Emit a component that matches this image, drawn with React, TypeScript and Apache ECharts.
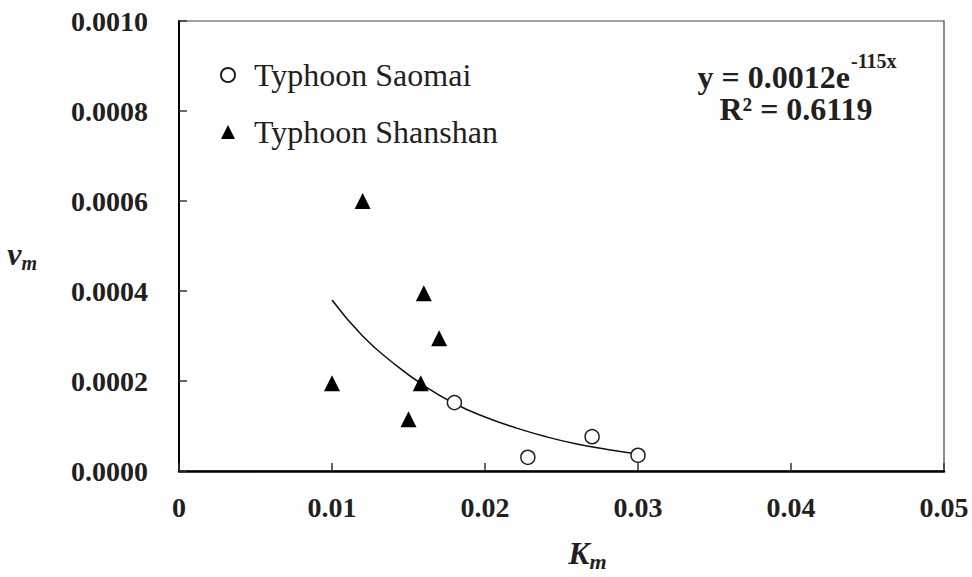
import React, { useEffect, useRef } from "react";
import * as echarts from "echarts";

const saomaiKm = [0.018, 0.0228, 0.027, 0.030];
const saomaiVm = [0.000152, 0.0000304, 0.0000763, 0.0000349];

const shanshanKm = [0.012, 0.016, 0.017, 0.010, 0.0158, 0.015];
const shanshanVm = [0.0006, 0.000395, 0.000295, 0.000195, 0.000195, 0.000115];

const trendKm = [0.010, 0.012, 0.014, 0.016, 0.018, 0.020, 0.022, 0.024, 0.026, 0.028, 0.030];
const trendVm = [0.00038, 0.0003, 0.00024, 0.00019, 0.00015, 0.00012, 0.000096, 0.000076, 0.00006, 0.000048, 0.000038];

const xTickLabels = ["0", "0.01", "0.02", "0.03", "0.04", "0.05"];
const yTickLabels = ["0.0000", "0.0002", "0.0004", "0.0006", "0.0008", "0.0010"];

const seriesNames = ["Typhoon Saomai", "Typhoon Shanshan"];
const equationMain = "y = 0.0012e";
const equationExp = "-115x";
const rSquared = "R² = 0.6119";

const FONT = "'Liberation Serif', 'Times New Roman', serif";
const INK = "#231f20";

export default function App() {
  const ref = useRef<HTMLDivElement>(null);
  useEffect(() => {
    if (!ref.current) return;
    const chart = echarts.init(ref.current, null, { renderer: "svg" });
    const zip = (a: number[], b: number[]) => a.map((v, i) => [v, b[i]]);
    chart.setOption({
      animation: false,
      backgroundColor: "#fff",
      grid: {
        left: 179,
        right: 28,
        top: 21,
        bottom: 106,
        outerBoundsMode: "none",
        containLabel: false,
        show: true,
        borderColor: "#444",
        borderWidth: 1.2,
        backgroundColor: "transparent",
      },
      legend: {
        orient: "vertical",
        left: 215,
        top: 54,
        itemWidth: 14,
        itemHeight: 14,
        itemGap: 25,
        data: [
          { name: seriesNames[0], icon: "circle" },
          { name: seriesNames[1], icon: "triangle" },
        ],
        textStyle: {
          fontFamily: FONT,
          fontSize: 32,
          color: INK,
          padding: [0, 0, 0, 14],
        },
      },
      xAxis: {
        type: "value",
        min: 0,
        max: 0.05,
        interval: 0.01,
        name: "{k|K}{m|m}",
        nameLocation: "middle",
        nameGap: 66,
        nameTextStyle: {
          padding: [0, 0, 0, 52],
          rich: {
            k: { fontFamily: FONT, fontSize: 32, fontWeight: "bold", fontStyle: "italic", color: INK },
            m: { fontFamily: FONT, fontSize: 22, fontWeight: "bold", fontStyle: "italic", color: INK, verticalAlign: "bottom", padding: [0, 0, -3, 0] },
          },
        },
        axisLine: { lineStyle: { color: "#000", width: 2.5 } },
        axisTick: { inside: true, length: 8, lineStyle: { color: "#333", width: 1.5 } },
        splitLine: { show: false },
        axisLabel: {
          margin: 22,
          fontFamily: FONT,
          fontSize: 28,
          fontWeight: "bold",
          color: INK,
          formatter: (_v: number, i: number) => xTickLabels[i],
        },
      },
      yAxis: {
        type: "value",
        min: 0,
        max: 0.001,
        interval: 0.0002,
        name: "{v|v}{m|m}",
        nameLocation: "middle",
        nameRotate: 0,
        nameGap: 142,
        nameTextStyle: {
          padding: [16, 0, 0, 0],
          rich: {
            v: { fontFamily: FONT, fontSize: 32, fontWeight: "bold", fontStyle: "italic", color: INK },
            m: { fontFamily: FONT, fontSize: 20, fontWeight: "bold", fontStyle: "italic", color: INK, verticalAlign: "bottom", padding: [0, 0, -3, 0] },
          },
        },
        axisLine: { lineStyle: { color: "#000", width: 2 } },
        axisTick: { inside: true, length: 8, lineStyle: { color: "#333", width: 1.5 } },
        splitLine: { show: false },
        axisLabel: {
          margin: 31,
          fontFamily: FONT,
          fontSize: 28,
          fontWeight: "bold",
          color: INK,
          formatter: (_v: number, i: number) => yTickLabels[i],
        },
      },
      graphic: [
        {
          type: "text",
          x: 850,
          y: 77,
          style: { text: equationMain, textAlign: "right", textVerticalAlign: "middle", font: `bold 32px ${FONT}`, fill: INK },
        },
        {
          type: "text",
          x: 851,
          y: 61,
          style: { text: equationExp, textAlign: "left", textVerticalAlign: "middle", font: `bold 20px ${FONT}`, fill: INK },
        },
        {
          type: "text",
          x: 796,
          y: 109,
          style: { text: rSquared, textAlign: "center", textVerticalAlign: "middle", font: `bold 32px ${FONT}`, fill: INK },
        },
      ],
      series: [
        {
          name: "trend",
          type: "line",
          smooth: true,
          showSymbol: false,
          symbol: "none",
          data: zip(trendKm, trendVm),
          lineStyle: { color: "#111", width: 1.5 },
          z: 1,
          silent: true,
        },
        {
          name: seriesNames[0],
          type: "scatter",
          symbol: "circle",
          symbolSize: 14,
          data: zip(saomaiKm, saomaiVm),
          itemStyle: { color: "#fff", borderColor: INK, borderWidth: 1.5, opacity: 1 },
          z: 3,
        },
        {
          name: seriesNames[1],
          type: "scatter",
          symbol: "triangle",
          symbolSize: 16,
          data: zip(shanshanKm, shanshanVm),
          itemStyle: { color: "#000", opacity: 1 },
          z: 3,
        },
      ],
    });
    return () => chart.dispose();
  }, []);
  return (
    <div
      ref={ref}
      style={{ position: "fixed", left: 0, top: 0, width: 972, height: 577, background: "#fff" }}
    />
  );
}
